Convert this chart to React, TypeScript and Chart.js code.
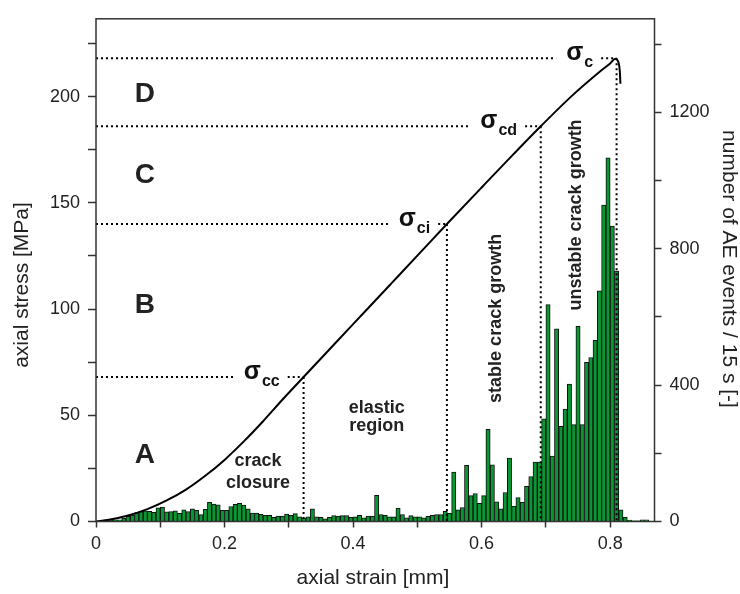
import { useEffect, useRef } from 'react';
import { Chart, registerables } from 'chart.js';

Chart.register(...registerables);

// ---- stress–strain curve ----
const STRAIN_MM = [0, 0.02, 0.05, 0.08, 0.11, 0.14, 0.17, 0.2, 0.23, 0.26, 0.29, 0.323, 0.37, 0.42, 0.46, 0.504, 0.546, 0.6, 0.65, 0.692, 0.74, 0.787, 0.8, 0.808, 0.812, 0.815, 0.816];
const STRESS_MPA = [0, 0.8, 2.8, 5.8, 9.9, 15.0, 21.5, 29, 37.7, 47.2, 57.3, 68, 83.2, 99.3, 112.2, 126.4, 140, 157.2, 173, 186, 200.2, 212.5, 215.6, 217.8, 216.8, 212, 206];

// ---- AE histogram (events per 15 s bin) ----
const AE_BIN_WIDTH_MM = 1 / 150;
const AE_EVENTS = [
  1, 2, 3, 4, 5, 5, 10, 15, 19, 26, 29, 31, 30, 27, 40, 42, 28, 29, 31, 24,
  34, 29, 37, 33, 20, 36, 56, 51, 49, 33, 33, 44, 50, 53, 48, 37, 25, 25, 21, 18,
  18, 12, 16, 16, 22, 18, 23, 14, 11, 14, 37, 14, 12, 8, 12, 17, 16, 17, 17, 12,
  14, 18, 11, 16, 16, 77, 20, 18, 14, 14, 39, 20, 11, 17, 14, 14, 11, 15, 18, 20,
  20, 30, 24, 145, 34, 41, 165, 76, 82, 53, 76, 270, 166, 58, 37, 85, 186, 45, 70, 56,
  103, 132, 174, 174, 301, 636, 192, 565, 279, 330, 403, 284, 572, 284, 467, 481, 531, 676, 928, 1066,
  866, 734, 34, 12, 4, 2, 2, 5, 5,
];

// ---- axes ----
const X_MAX = 0.869;
const X_TICKS = [0, 0.1, 0.2, 0.3, 0.4, 0.5, 0.6, 0.7, 0.8];
const X_LABELED = [0, 0.2, 0.4, 0.6, 0.8];
const STRESS_MAX = 236.6;
const STRESS_TICKS = [0, 25, 50, 75, 100, 125, 150, 175, 200, 225];
const STRESS_LABELED = [0, 50, 100, 150, 200];
const AE_MAX = 1474;
const AE_TICKS = [0, 200, 400, 600, 800, 1000, 1200, 1400];
const AE_LABELED = [0, 400, 800, 1200];

// ---- characteristic stress thresholds ----
const THRESHOLD_NAMES = ['cc', 'ci', 'cd', 'c'];
const THRESHOLD_STRAIN = [0.323, 0.546, 0.692, 0.81];
const THRESHOLD_STRESS = [68, 140, 186, 218];
const THRESHOLD_LABEL_STRAIN = [0.23, 0.471, 0.598, 0.7315];

// ---- region letters ----
const REGION_LETTERS = ['A', 'B', 'C', 'D'];
const REGION_STRESS = [31, 102, 163, 201];
const REGION_STRAIN = 0.076;

// ---- annotations ----
const NOTE_TEXTS = [['crack', 'closure'], ['elastic', 'region']];
const NOTE_STRAIN = [0.252, 0.437];
const NOTE_STRESS = [[28.5, 18.3], [53.5, 44.7]];
const VNOTE_TEXTS = ['stable crack growth', 'unstable crack growth'];
const VNOTE_STRAIN = [0.6226, 0.747];
const VNOTE_STRESS = [95.6, 144.3];

const FONT = '"Liberation Sans", Arial, sans-serif';

const overlayPlugin = {
  id: 'overlay',
  afterDatasetsDraw(chart: any) {
    const { ctx, chartArea: a, scales } = chart;
    const xs = scales.x;
    const ys = scales.y;
    ctx.save();
    ctx.beginPath();
    ctx.rect(a.left, a.top, a.right - a.left, a.bottom - a.top);
    ctx.clip();

    // threshold dotted lines + labels
    for (let i = 0; i < THRESHOLD_NAMES.length; i++) {
      const px = xs.getPixelForValue(THRESHOLD_STRAIN[i]);
      const py = ys.getPixelForValue(THRESHOLD_STRESS[i]);
      const lx = xs.getPixelForValue(THRESHOLD_LABEL_STRAIN[i]);
      ctx.font = `bold 25px ${FONT}`;
      const sw = ctx.measureText('σ').width;
      ctx.font = `bold 16px ${FONT}`;
      const subw = ctx.measureText(THRESHOLD_NAMES[i]).width;
      const lend = lx + sw + 1 + subw;

      ctx.strokeStyle = '#000';
      ctx.lineWidth = 2;
      ctx.setLineDash([2, 3]);
      ctx.beginPath();
      ctx.moveTo(a.left, py);
      ctx.lineTo(lx - 10, py);
      ctx.moveTo(lend + 8, py);
      ctx.lineTo(px, py);
      ctx.moveTo(px, py);
      ctx.lineTo(px, a.bottom);
      ctx.stroke();
      ctx.setLineDash([]);

      ctx.fillStyle = '#111';
      ctx.textAlign = 'left';
      ctx.textBaseline = 'alphabetic';
      ctx.font = `bold 25px ${FONT}`;
      ctx.fillText('σ', lx, py + 2);
      ctx.font = `bold 16px ${FONT}`;
      ctx.fillText(THRESHOLD_NAMES[i], lx + sw + 1, py + 9);
    }

    // region letters
    ctx.fillStyle = '#222';
    ctx.textAlign = 'center';
    ctx.textBaseline = 'middle';
    ctx.font = `bold 28px ${FONT}`;
    for (let i = 0; i < REGION_LETTERS.length; i++) {
      ctx.fillText(REGION_LETTERS[i], xs.getPixelForValue(REGION_STRAIN), ys.getPixelForValue(REGION_STRESS[i]));
    }

    // horizontal notes
    ctx.font = `bold 18px ${FONT}`;
    for (let i = 0; i < NOTE_TEXTS.length; i++) {
      for (let j = 0; j < NOTE_TEXTS[i].length; j++) {
        ctx.fillText(NOTE_TEXTS[i][j], xs.getPixelForValue(NOTE_STRAIN[i]), ys.getPixelForValue(NOTE_STRESS[i][j]));
      }
    }
    // vertical notes
    for (let i = 0; i < VNOTE_TEXTS.length; i++) {
      ctx.save();
      ctx.translate(xs.getPixelForValue(VNOTE_STRAIN[i]), ys.getPixelForValue(VNOTE_STRESS[i]));
      ctx.rotate(-Math.PI / 2);
      ctx.fillText(VNOTE_TEXTS[i], 0, 0);
      ctx.restore();
    }
    ctx.restore();
  },
  afterDraw(chart: any) {
    const { ctx, chartArea: a } = chart;
    ctx.save();
    ctx.strokeStyle = '#333';
    ctx.lineWidth = 1.5;
    ctx.strokeRect(a.left, a.top, a.right - a.left, a.bottom - a.top);

    ctx.fillStyle = '#222';
    ctx.font = `21px ${FONT}`;
    ctx.textAlign = 'center';
    ctx.textBaseline = 'middle';
    ctx.fillText('axial strain [mm]', 373, 578);
    ctx.save();
    ctx.translate(22, 285);
    ctx.rotate(-Math.PI / 2);
    ctx.fillText('axial stress [MPa]', 0, 0);
    ctx.restore();
    ctx.save();
    ctx.translate(729, 269);
    ctx.rotate(Math.PI / 2);
    ctx.fillText('number of AE events / 15 s [-]', 0, 0);
    ctx.restore();
    ctx.restore();
  },
};

function fixedTicks(values: number[]) {
  return (scale: any) => {
    scale.ticks = values.map((v) => ({ value: v }));
  };
}

export default function App() {
  const ref = useRef<HTMLCanvasElement>(null);
  useEffect(() => {
    document.body.style.margin = '0';
    const canvas = ref.current!;
    const barData = AE_EVENTS.map((v, i) => ({ x: (i + 0.5) * AE_BIN_WIDTH_MM, y: v }));
    const lineData = STRAIN_MM.map((s, i) => ({ x: s, y: STRESS_MPA[i] }));
    const tickCommon = { color: '#222', font: { family: FONT, size: 18 } };
    const chart = new Chart(canvas, {
      type: 'bar',
      data: {
        datasets: [
          {
            type: 'line',
            data: lineData,
            xAxisID: 'x',
            yAxisID: 'y',
            borderColor: '#000',
            borderWidth: 2,
            pointRadius: 0,
            cubicInterpolationMode: 'monotone',
            order: 0,
          } as any,
          {
            type: 'bar',
            data: barData,
            xAxisID: 'x',
            yAxisID: 'y1',
            backgroundColor: '#0a9632',
            borderColor: '#111',
            borderWidth: 1,
            barPercentage: 1,
            categoryPercentage: 1,
            order: 1,
          } as any,
        ],
      },
      options: {
        responsive: false,
        animation: false,
        devicePixelRatio: 1,
        layout: { padding: { top: 11, left: 0, right: 0, bottom: 0 } },
        plugins: { legend: { display: false }, tooltip: { enabled: false } },
        scales: {
          x: {
            type: 'linear',
            position: 'bottom',
            offset: false,
            min: 0,
            max: X_MAX,
            afterBuildTicks: fixedTicks(X_TICKS),
            afterFit: (s: any) => { s.height = 72.5; },
            grid: { offset: false, drawOnChartArea: false, drawTicks: true, tickLength: 6, tickColor: '#333', tickWidth: 1.5 },
            border: { display: false },
            ticks: {
              ...tickCommon,
              padding: 6,
              maxRotation: 0,
              autoSkip: false,
              callback: (v: any) => (X_LABELED.some((l) => Math.abs(l - v) < 1e-6) ? String(+Number(v).toFixed(1)) : ''),
            },
          },
          y: {
            type: 'linear',
            position: 'left',
            min: 0,
            max: STRESS_MAX,
            afterBuildTicks: fixedTicks(STRESS_TICKS),
            afterFit: (s: any) => { s.width = 96; },
            grid: { drawOnChartArea: false, drawTicks: true, tickLength: 8, tickColor: '#333', tickWidth: 1.5 },
            border: { display: false },
            ticks: {
              ...tickCommon,
              padding: 8,
              autoSkip: false,
              callback: (v: any) => (STRESS_LABELED.includes(Number(v)) ? String(v) : ''),
            },
          },
          y1: {
            type: 'linear',
            position: 'right',
            min: 0,
            max: AE_MAX,
            afterBuildTicks: fixedTicks(AE_TICKS),
            afterFit: (s: any) => { s.width = 85.5; },
            grid: { drawOnChartArea: false, drawTicks: true, tickLength: 7, tickColor: '#333', tickWidth: 1.5 },
            border: { display: false },
            ticks: {
              ...tickCommon,
              padding: 8,
              autoSkip: false,
              callback: (v: any) => (AE_LABELED.includes(Number(v)) ? String(v) : ''),
            },
          },
        },
      },
      plugins: [overlayPlugin],
    });
    return () => chart.destroy();
  }, []);
  return (
    <div style={{ width: 740, height: 594 }}>
      <canvas ref={ref} width={740} height={594} style={{ display: 'block' }} />
    </div>
  );
}
